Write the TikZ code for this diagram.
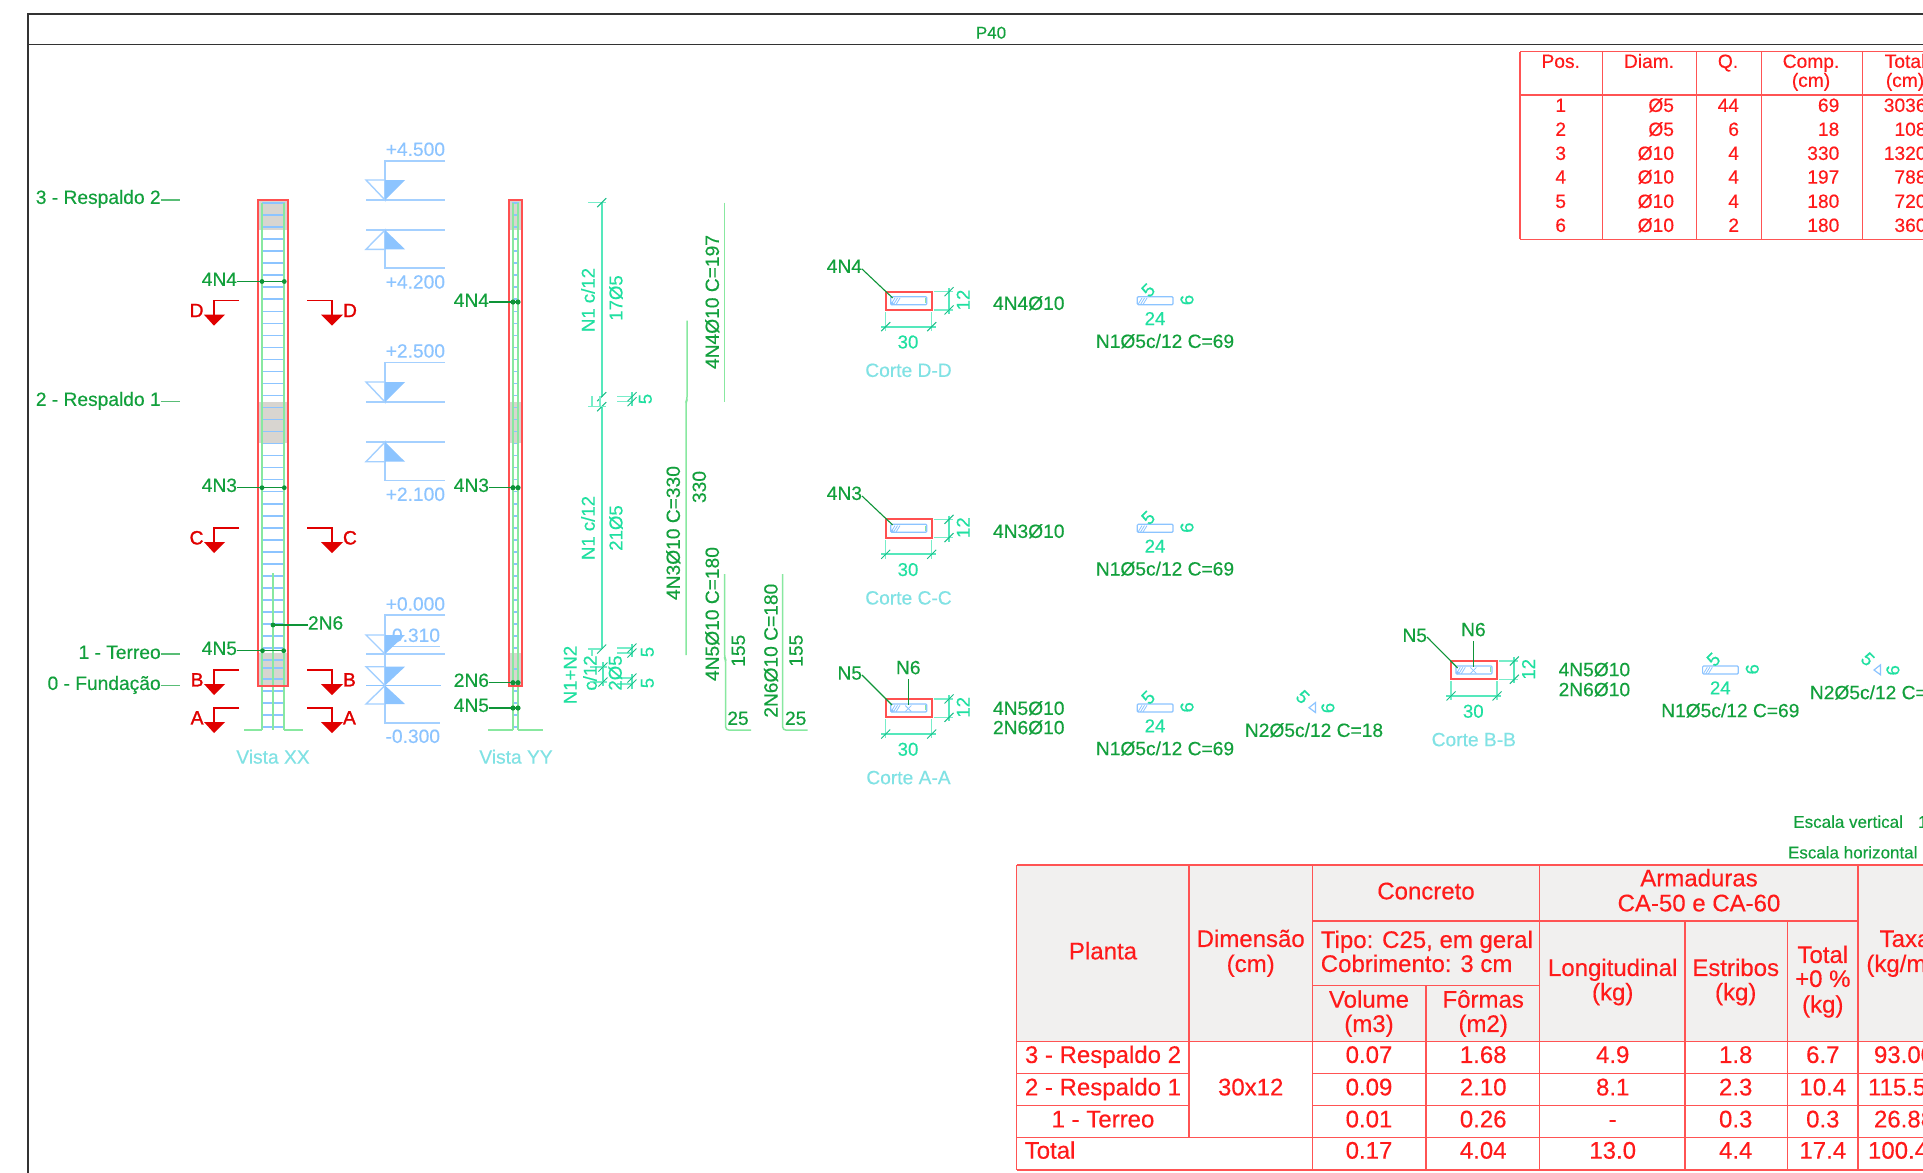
\documentclass[tikz,border=0pt]{standalone}
\usepackage{fontspec}
\setmainfont{Liberation Sans}[RawFeature={embolden=0.35}]
\newfontfamily\secfont{Liberation Sans}[RawFeature={embolden=1.4}]
\definecolor{gtxt}{HTML}{12A03C}
\definecolor{gleader}{HTML}{0E9438}
\definecolor{gbar}{HTML}{88E8A0}
\definecolor{dimt}{HTML}{1FE0A0}
\definecolor{dimd}{HTML}{55E8BC}
\definecolor{lvl}{HTML}{8CC4FF}
\definecolor{lvlp}{HTML}{A4D0FF}
\definecolor{cyant}{HTML}{80E2E4}
\definecolor{secr}{HTML}{E00000}
\definecolor{rbox}{HTML}{FF5050}
\definecolor{rtab}{HTML}{FF1A1A}
\definecolor{conc}{HTML}{D8D5D0}
\definecolor{hdr}{HTML}{F1F0EF}
\tikzset{
  f17/.style={inner sep=0pt,outer sep=0pt,font=\fontsize{17}{17}\selectfont,text height=12.2pt,text depth=0pt},
  f185/.style={inner sep=0pt,outer sep=0pt,font=\fontsize{18.6}{18.6}\selectfont,text height=13.4pt,text depth=0pt},
  f19/.style={inner sep=0pt,outer sep=0pt,font=\fontsize{19.2}{19.2}\selectfont,text height=13.8pt,text depth=0pt},
  f24/.style={inner sep=0pt,outer sep=0pt,font=\fontsize{24}{24}\selectfont,text height=17.3pt,text depth=0pt},
  glabel/.style={f19,text=gtxt},
  dimlabel/.style={f185,text=dimt},
  lvllabel/.style={f19,text=lvl},
  viewlabel/.style={f19,text=cyant},
  seclabel/.style={f19,text=secr,font=\fontsize{19.2}{19.2}\selectfont\secfont},
  tabtext/.style={f19,text=rtab},
  bigtext/.style={f24,text=rtab},
  leader/.style={draw=gleader,line width=1.1pt},
  extline/.style={draw=dimd!80,line width=1.3pt},
  dimline/.style={draw=dimd,line width=1.9pt},
  tickl/.style={draw=dimt!85!black,line width=1pt},
  barline/.style={draw=gbar,line width=1.5pt,rounded corners=3pt},
  lvlline/.style={draw=lvlp,line width=1.4pt},
  redbox/.style={draw=rbox,line width=2pt},
  tabline/.style={draw=rtab!75,line width=1.3pt},
  secline/.style={draw=secr,line width=1.2pt},
}
\newcommand{\dtick}[2]{\draw[tickl] (#1-4.5,#2+4.5) -- (#1+4.5,#2-4.5);}
\newcommand{\lvltri}[2]{%
  \draw[lvlline] (366,#1) -- (385,#1) -- (385,#2) -- cycle;
  \fill[lvl] (385,#1) -- (405,#1) -- (385,#2) -- cycle;}
\newcommand{\secleft}[3]{%
  \draw[secline] (239,#1) -- (214,#1) -- (214,#1+15);
  \fill[secr] (204,#1+14) -- (225,#1+14) -- (214,#1+25) -- cycle;
  \node[seclabel,anchor=east] (secl#2) at (203.5,#1+9.5) {#3};}
\newcommand{\secright}[3]{%
  \draw[secline] (307,#1) -- (332,#1) -- (332,#1+15);
  \fill[secr] (321,#1+14) -- (343,#1+14) -- (332,#1+25) -- cycle;
  \node[seclabel,anchor=west] (secr#2) at (343,#1+9.5) {#3};}
% section of the column, drawn at the position of D-D and shifted
\newcommand{\corte}[4]{%
  \begin{scope}[shift={(#2,#3)}]
    \draw[redbox] (885.7,291.7) rectangle (931.7,310);
    \draw[lvl,line width=1.2pt,rounded corners=1pt] (890.7,296.7) rectangle (926.7,304.7);
    \foreach \h in {0,2.5,5}{\draw[lvl,line width=.8pt] (891+\h,304.5) -- (895+\h,298);}
    \fill[lvl] (892,303.5) circle (1.8);
    \draw[gbar,line width=1pt] (925.5,298) -- (925.5,303);
    \draw[extline] (885.7,312) -- (885.7,331);
    \draw[extline] (931.7,312) -- (931.7,331);
    \draw[dimline] (881,326.7) -- (936,326.7);
    \dtick{885.7}{326.7}\dtick{931.7}{326.7}
    \draw[extline] (934,291.7) -- (953,291.7);
    \draw[extline] (934,310) -- (953,310);
    \draw[dimline] (949,288) -- (949,314);
    \dtick{949}{291.7}\dtick{949}{310}
    \node[dimlabel] (w#1) at (908,341.7) {30};
    \node[dimlabel,rotate=90] (h#1) at (963,300) {12};
    \node[viewlabel] (cap#1) at (908.5,370) {#4};
  \end{scope}}
\newcommand{\estribo}[3]{%
  \begin{scope}[shift={(#2,#3)}]
    \draw[lvl,line width=1.2pt,rounded corners=1pt] (1137.3,296.7) rectangle (1173,304.7);
    \foreach \h in {0,2.5,5}{\draw[lvl,line width=.8pt] (1138+\h,304.5) -- (1142+\h,298);}
    \node[dimlabel,rotate=45] (a#1) at (1148,290) {5};
    \node[dimlabel,rotate=90] (b#1) at (1186.7,300) {6};
    \node[dimlabel] (c#1) at (1155,318.3) {24};
    \node[glabel] (d#1) at (1165,341) {N1Ø5c/12 C=69};
  \end{scope}}
\newcommand{\grampo}[3]{%
  \begin{scope}[shift={(#2,#3)}]
    \draw[lvl,line width=1.2pt] (1309,707.7) -- (1315.5,702.5) -- (1315.5,712.5) -- cycle;
    \node[dimlabel,rotate=-45] (e#1) at (1303,696.7) {5};
    \node[dimlabel,rotate=90] (f#1) at (1327.6,708) {6};
    \node[glabel] (g#1) at (1314,730) {N2Ø5c/12 C=18};
  \end{scope}}
\begin{document}
\begin{tikzpicture}[x=1pt,y=-1pt]
\useasboundingbox (0,0) rectangle (1923,1173);
\clip (0,0) rectangle (1923,1173);
\fill[white] (0,0) rectangle (1923,1173);
% frame
\draw[black!80,line width=1.2pt] (28,1173) -- (28,14) -- (1923,14);
\draw[black!80,line width=1.2pt] (28,44.5) -- (1923,44.5);
\node[f17,text=gtxt] (title) at (991,32.5) {P40};
% levels
\node[glabel,anchor=east] (lev3) at (160.7,197) {3 - Respaldo 2};
\node[glabel,anchor=east] (lev2) at (160.7,399) {2 - Respaldo 1};
\node[glabel,anchor=east] (lev1) at (160.7,652) {1 - Terreo};
\node[glabel,anchor=east] (lev0) at (160.7,683) {0 - Fundação};
\coordinate (levc3) at (180,200);\coordinate (levc2) at (180,401.7);\coordinate (levc1) at (180,654);\coordinate (levc0) at (180,685.7);
\foreach \n in {3,2,1,0}{\draw[draw=gtxt!70,line width=1.2pt] (lev\n.east |- levc\n) -- (levc\n);}
% Vista XX
\fill[conc] (258,200) rectangle (288,230);
\fill[conc] (258,401.7) rectangle (288,443);
\fill[conc] (258,653) rectangle (288,686);
\foreach \i in {0,...,37}{\draw[lvl,line width=1.5pt] (262,203+12.03*\i) -- (285,203+12.03*\i);}
\foreach \yy in {660,668,679,691,703,715,727}{\draw[lvl,line width=1.5pt] (262,\yy) -- (285,\yy);}
\draw[gbar,line width=1.8pt] (261.7,203) -- (261.7,730);
\draw[gbar,line width=1.8pt] (284.3,203) -- (284.3,730);
\draw[gbar,line width=1.3pt] (273,573) -- (273,730);
\draw[gbar,line width=1.3pt] (244,730) -- (261.7,730);
\draw[gbar,line width=1.3pt] (284.3,730) -- (303,730);
\draw[redbox] (257.7,200) rectangle (288.3,686);
\node[glabel,anchor=east] (x4n4) at (237,279) {4N4};
\node[glabel,anchor=east] (x4n3) at (237,485) {4N3};
\node[glabel,anchor=east] (x4n5) at (237,648) {4N5};
\node[glabel,anchor=west] (x2n6) at (308,622.7) {2N6};
\foreach \nm/\yy/\xa/\xb in {x4n4/281.5/262/284.3,x4n3/487.7/262/284.3,x4n5/650.7/262.5/283.7}{
  \coordinate (p\nm a) at (\xa,\yy);\coordinate (p\nm b) at (\xb,\yy);
  \draw[leader] (\nm.east |- p\nm a) -- (p\nm b);
  \fill[gleader] (p\nm a) circle (2.4);\fill[gleader] (p\nm b) circle (2.4);}
\coordinate (px2n6) at (273,625);
\draw[leader] (x2n6.west |- px2n6) -- (px2n6);
\fill[gleader] (px2n6) circle (2.4);
\node[viewlabel] (vxx) at (273,756.7) {Vista XX};
% section marks
\secleft{300.7}{d}{D}\secright{300.7}{d}{D}
\secleft{528}{c}{C}\secright{528}{c}{C}
\secleft{670}{b}{B}\secright{670}{b}{B}
\secleft{708}{a}{A}\secright{708}{a}{A}
% level marks
\node[lvllabel,anchor=east] (l45) at (445,149) {+4.500};
\draw[lvlline] (445,161) -- (385,161) -- (385,200);
\draw[lvlline] (366,200) -- (445,200);
\lvltri{180}{200}
\draw[lvlline] (366,230) -- (445,230);
\draw[lvlline] (385,230) -- (385,268) -- (445,268);
\lvltri{249.3}{230}
\node[lvllabel,anchor=east] (l42) at (445,281.7) {+4.200};
\node[lvllabel,anchor=east] (l25) at (445,350.7) {+2.500};
\draw[lvlline] (445,362.7) -- (385,362.7) -- (385,402);
\draw[lvlline] (366,402) -- (445,402);
\lvltri{382}{402}
\draw[lvlline] (366,442) -- (445,442);
\draw[lvlline] (385,442) -- (385,480.7) -- (445,480.7);
\lvltri{461.7}{442}
\node[lvllabel,anchor=east] (l21) at (445,494) {+2.100};
\node[lvllabel,anchor=east] (l00) at (445,603.7) {+0.000};
\node[lvllabel,anchor=east] (l31) at (440,635) {-0.310};
\draw[lvlline] (445,615) -- (385,615) -- (385,723) -- (440,723);
\draw[lvlline] (385,646.7) -- (440,646.7);
\draw[lvlline] (366,654) -- (445,654);
\lvltri{635}{654}
\draw[lvl,line width=1.9pt] (366,685.5) -- (440.7,685.5);
\lvltri{666.7}{685.5}
\lvltri{704}{685.5}
\node[lvllabel,anchor=east] (l03) at (440,736) {-0.300};
% Vista YY
\fill[conc] (510,200) rectangle (521.5,230);
\fill[conc] (510,401.7) rectangle (521.5,443);
\fill[conc] (510,653) rectangle (521.5,686);
\foreach \i in {0,...,37}{\draw[lvl,line width=1.5pt] (512,203+12.03*\i) -- (519,203+12.03*\i);}
\foreach \yy in {669,691,703,715,727}{\draw[lvl,line width=1.5pt] (512,\yy) -- (519,\yy);}
\draw[gbar,line width=1.5pt] (513,203) -- (513,730);
\draw[gbar,line width=1.5pt] (518,203) -- (518,730);
\draw[gbar,line width=1.3pt] (488,730) -- (513,730);
\draw[gbar,line width=1.3pt] (518,730) -- (543,730);
\draw[redbox] (509.3,200) rectangle (522,686);
\node[glabel,anchor=east] (y4n4) at (489,300) {4N4};
\node[glabel,anchor=east] (y4n3) at (489,485) {4N3};
\node[glabel,anchor=east] (y2n6) at (489,680) {2N6};
\node[glabel,anchor=east] (y4n5) at (489,705) {4N5};
\foreach \nm/\yy in {y4n4/302,y4n3/487.7,y2n6/682.7,y4n5/708}{
  \coordinate (p\nm a) at (513,\yy);\coordinate (p\nm b) at (518,\yy);
  \draw[leader] (\nm.east |- p\nm a) -- (p\nm b);
  \fill[gleader] (p\nm a) circle (2.6);\fill[gleader] (p\nm b) circle (2.6);}
\node[viewlabel] (vyy) at (516,756.7) {Vista YY};
% vertical dimension chain
\draw[dimline] (601.7,202.7) -- (601.7,396.7);
\draw[dimline] (601.7,406.7) -- (601.7,649);
\draw[extline] (588,202.7) -- (606,202.7);
\dtick{601.7}{202.7}
\dtick{601.7}{396.7}\dtick{601.7}{406.7}
\draw[extline] (588,406.7) -- (606,406.7);
\draw[extline] (592,396) -- (592,406.7);
\draw[extline] (600,396) -- (600,406.7);
\draw[extline] (617,396.7) -- (632,396.7);
\draw[extline] (617,401.7) -- (632,401.7);
\draw[dimline] (632,392) -- (632,406);
\dtick{632}{396.7}\dtick{632}{401.7}
\node[dimlabel,rotate=90] (d5a) at (645,399) {5};
\node[dimlabel,rotate=90] (d1a) at (588,300) {N1 c/12};
\node[dimlabel,rotate=90] (d1b) at (615.7,298) {17Ø5};
\node[dimlabel,rotate=90] (d2a) at (588,528) {N1 c/12};
\node[dimlabel,rotate=90] (d2b) at (615.7,528) {21Ø5};
\draw[extline] (588,649) -- (602,649);
\draw[extline] (592,649) -- (592,656);
\dtick{601.7}{649}
\draw[dimline] (603,662) -- (603,686);
\draw[extline] (590,667) -- (607,667);
\draw[extline] (590,682) -- (607,682);
\dtick{603}{667}\dtick{603}{682}
\draw[extline] (617,648) -- (632,648);
\draw[extline] (617,653) -- (632,653);
\draw[dimline] (632,644) -- (632,657);
\dtick{632}{648}\dtick{632}{653}
\draw[extline] (617,678) -- (632,678);
\draw[extline] (617,684) -- (632,684);
\draw[dimline] (632,674) -- (632,689);
\dtick{632}{678}\dtick{632}{684}
\node[dimlabel,rotate=90] (d5b) at (647,652) {5};
\node[dimlabel,rotate=90] (d5c) at (647,683) {5};
\node[dimlabel,rotate=90] (d3a) at (570,675) {N1+N2};
\node[dimlabel,rotate=90] (d3b) at (590,673) {c/12};
\node[dimlabel,rotate=90] (d3c) at (615,673) {2Ø5};
% bars
\draw[barline] (724.7,202.7) -- (724.7,401.7);
\node[glabel,rotate=90] (b4) at (712,302) {4N4Ø10 C=197};
\draw[barline] (687,320.7) -- (687,400) -- (686,402) -- (686,655);
\node[glabel,rotate=90] (b3) at (673,533) {4N3Ø10 C=330};
\node[glabel,rotate=90] (b3l) at (699,487) {330};
\draw[barline] (724.7,574) -- (724.7,658) -- (725.7,660) -- (725.7,730) -- (751,730);
\node[glabel,rotate=90] (b5) at (712,614) {4N5Ø10 C=180};
\node[glabel,rotate=90] (b5l) at (738,650.7) {155};
\node[glabel] (b5s) at (738,718) {25};
\draw[barline] (782.7,574) -- (782.7,730) -- (807.7,730);
\node[glabel,rotate=90] (b6) at (770.7,650.7) {2N6Ø10 C=180};
\node[glabel,rotate=90] (b6l) at (795.7,650.7) {155};
\node[glabel] (b6s) at (795.7,718) {25};
% sections
\corte{d}{0}{0}{Corte D-D}
\corte{c}{0}{227.6}{Corte C-C}
\corte{a}{0}{407.3}{Corte A-A}
\corte{bb}{565.3}{369.3}{Corte B-B}
% section labels and leaders
\node[glabel,anchor=east] (s4n4) at (862,266) {4N4};
\coordinate (t4n4) at (892.7,298);
\draw[leader] (s4n4.east |- 0,269) -- (t4n4);
\node[glabel,anchor=east] (s4n3) at (862,493) {4N3};
\coordinate (t4n3) at (892.7,525);
\draw[leader] (s4n3.east |- 0,496) -- (t4n3);
\node[glabel,anchor=east] (sn5) at (862,672.7) {N5};
\coordinate (tn5) at (892,705);
\draw[leader] (sn5.east |- 0,675) -- (tn5);
\node[glabel] (sn6) at (908.3,667.3) {N6};
\coordinate (tn6) at (908.3,705);
\draw[leader] (sn6.south) ++(0,5) -- (tn6);
\node[glabel,anchor=east] (bn5) at (1427,635) {N5};
\coordinate (ben5) at (1457.7,668);
\draw[leader] (bn5.east |- 0,637) -- (ben5);
\node[glabel] (bn6) at (1473.4,629.3) {N6};
\coordinate (ben6) at (1473.4,667);
\draw[leader] (bn6.south) ++(0,5) -- (ben6);
\foreach \xc/\yc in {908.3/708.5,1473.4/670.5}{
  \draw[lvl,line width=.8pt] (\xc-3,\yc-3) -- (\xc+3,\yc+3);
  \draw[lvl,line width=.8pt] (\xc-3,\yc+3) -- (\xc+3,\yc-3);}
\node[glabel,anchor=west] (n1) at (993,303) {4N4Ø10};
\node[glabel,anchor=west] (n2) at (993,531) {4N3Ø10};
\node[glabel,anchor=west] (n3) at (993,708) {4N5Ø10};
\node[glabel,anchor=west] (n4) at (993,727.3) {2N6Ø10};
\node[glabel,anchor=west] (n5) at (1558.6,669.3) {4N5Ø10};
\node[glabel,anchor=west] (n6) at (1558.6,689.3) {2N6Ø10};
\estribo{d}{0}{0}
\estribo{c}{0}{227.6}
\estribo{a}{0}{407.3}
\estribo{bb}{565.3}{369.3}
\grampo{a}{0}{0}
\grampo{bb}{565}{-37.7}
% scales
\node[f17,text=gtxt,anchor=west] (ev) at (1793.3,821.7) {Escala vertical};
\node[f17,text=gtxt,anchor=west] (evv) at (1918,821.7) {1};
\node[f17,text=gtxt,anchor=west] (eh) at (1788,852.3) {Escala horizontal};
% bar schedule
\draw[tabline] (1520,51.7) -- (1923,51.7);
\draw[tabline] (1520,95) -- (1923,95);
\draw[tabline] (1520,239.3) -- (1923,239.3);
\foreach \xx in {1520,1602.3,1696.7,1761.7,1862.3}{\draw[tabline] (\xx,51.7) -- (\xx,239.3);}
\node[tabtext] (hp) at (1560.7,61) {Pos.};
\node[tabtext] (hd) at (1649,61) {Diam.};
\node[tabtext] (hq) at (1728,61) {Q.};
\node[tabtext] (hc) at (1811,61) {Comp.};
\node[tabtext] (hc2) at (1811,80) {(cm)};
\node[tabtext] (ht) at (1905,61) {Total};
\node[tabtext] (ht2) at (1905,80) {(cm)};
\foreach \yy/\a/\b/\c/\d/\e in {105/1/Ø5/44/69/3036,129/2/Ø5/6/18/108,153/3/Ø10/4/330/1320,176.7/4/Ø10/4/197/788,201/5/Ø10/4/180/720,225/6/Ø10/2/180/360}{
  \node[tabtext] (spa\a) at (1560.7,\yy) {\a};
  \node[tabtext,anchor=east] (spb\a) at (1674,\yy) {\b};
  \node[tabtext,anchor=east] (spc\a) at (1739,\yy) {\c};
  \node[tabtext,anchor=east] (spd\a) at (1839.3,\yy) {\d};
  \node[tabtext,anchor=east] (spe\a) at (1926.5,\yy) {\e};}
% summary table
\fill[hdr] (1016.5,865) rectangle (1923,1041.7);
\foreach \xx in {1016.5,1312.5,1858}{\draw[tabline] (\xx,865) -- (\xx,1170);}
\draw[tabline] (1189,865) -- (1189,1137.3);
\draw[tabline] (1426,985.7) -- (1426,1170);
\draw[tabline] (1685,921) -- (1685,1170);
\draw[tabline] (1787.5,921) -- (1787.5,1170);
\draw[tabline] (1539.7,865) -- (1539.7,1170);
\foreach \yy in {865,1041.7,1170}{\draw[tabline] (1016.5,\yy) -- (1923,\yy);}
\draw[tabline] (1312.5,921) -- (1858,921);
\draw[tabline] (1312.5,985.7) -- (1539.7,985.7);
\draw[tabline] (1016.5,1073.7) -- (1189,1073.7);
\draw[tabline] (1312.5,1073.7) -- (1923,1073.7);
\draw[tabline] (1016.5,1105.7) -- (1189,1105.7);
\draw[tabline] (1312.5,1105.7) -- (1923,1105.7);
\draw[tabline] (1016.5,1137.3) -- (1923,1137.3);
\node[bigtext] (tp) at (1103,950.7) {Planta};
\node[bigtext] (td1) at (1250.7,938.3) {Dimensão};
\node[bigtext] (td2) at (1250.7,963.3) {(cm)};
\node[bigtext] (tc) at (1426,890.7) {Concreto};
\node[bigtext] (ta1) at (1699,877.7) {Armaduras};
\node[bigtext] (ta2) at (1699,902.7) {CA-50 e CA-60};
\node[bigtext,anchor=west] (tt1) at (1320.8,939.3) {Tipo: C25, em geral};
\node[bigtext,anchor=west] (tt2) at (1320.8,963.3) {Cobrimento: 3 cm};
\node[bigtext] (tv1) at (1369,999) {Volume};
\node[bigtext] (tv2) at (1369,1023.3) {(m3)};
\node[bigtext] (tf1) at (1483.2,999) {Fôrmas};
\node[bigtext] (tf2) at (1483.2,1023.3) {(m2)};
\node[bigtext] (tl1) at (1612.7,967.3) {Longitudinal};
\node[bigtext] (tl2) at (1612.7,991.7) {(kg)};
\node[bigtext] (te1) at (1735.7,967.3) {Estribos};
\node[bigtext] (te2) at (1735.7,991.7) {(kg)};
\node[bigtext] (to1) at (1822.8,954.3) {Total};
\node[bigtext] (to2) at (1822.8,978.3) {+0 \%};
\node[bigtext] (to3) at (1822.8,1004) {(kg)};
\node[bigtext] (tx1) at (1905,938.3) {Taxa};
\node[bigtext,anchor=west] (tx2) at (1866.4,963.3) {(kg/m3)};
\node[bigtext] (r1) at (1103,1054.3) {3 - Respaldo 2};
\node[bigtext] (r2) at (1103,1086.7) {2 - Respaldo 1};
\node[bigtext] (r3) at (1103,1118.7) {1 - Terreo};
\node[bigtext,anchor=west] (r4) at (1024.7,1150) {Total};
\node[bigtext] (rd) at (1250.7,1086.7) {30x12};
\foreach \yy/\k/\a/\b/\c/\d/\e/\xt/\f in {1054.3/1/0.07/1.68/4.9/1.8/6.7/1874/93.00,1086.7/2/0.09/2.10/8.1/2.3/10.4/1868/115.5,1118.7/3/0.01/0.26/-/0.3/0.3/1874/26.88,1150/4/0.17/4.04/13.0/4.4/17.4/1868/100.4}{
  \node[bigtext] (va\k) at (1369,\yy) {\a};
  \node[bigtext] (vb\k) at (1483.2,\yy) {\b};
  \node[bigtext] (vc\k) at (1612.7,\yy) {\c};
  \node[bigtext] (vd\k) at (1735.7,\yy) {\d};
  \node[bigtext] (ve\k) at (1822.8,\yy) {\e};
  \node[bigtext,anchor=west] (vf\k) at (\xt,\yy) {\f};}
\end{tikzpicture}
\end{document}
